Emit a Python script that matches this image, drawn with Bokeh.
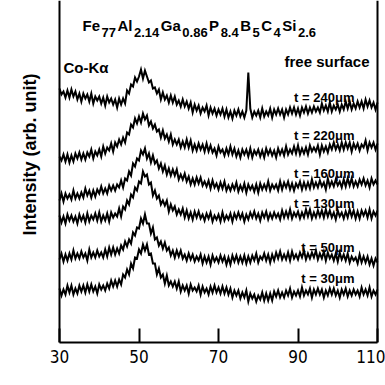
import math
from bokeh.plotting import figure
from bokeh.models import Range1d, FixedTicker, Label, Span
from bokeh.embed import file_html
from bokeh.resources import INLINE

# ---------------- data ----------------
two_theta = [30 + 0.5 * i for i in range(161)]  # sampling grid, degrees

t240 = [254,248,251,245,252,245,253,246,251,243,
        249,241,249,244,248,241,249,239,246,242,
        246,239,245,237,246,240,244,238,243,235,
        244,238,244,239,252,249,258,256,265,261,
        266,273,264,272,266,260,262,254,255,249,
        253,243,250,243,247,240,247,240,246,238,
        242,236,243,236,241,234,240,230,238,232,
        237,229,235,231,237,227,235,229,234,227,
        233,228,234,226,233,225,231,224,232,227,
        233,226,231,225,232,270,234,225,231,227,
        232,225,234,226,231,227,234,225,233,228,
        234,228,233,225,233,228,235,229,235,228,
        234,227,235,230,236,229,235,230,236,231,
        235,230,239,232,237,231,240,231,237,233,
        238,231,238,233,241,234,241,233,239,234,
        241,235,241,234,243,236,242,235,240,233,
        240]

t220 = [186,182,188,181,188,180,187,181,189,184,
        190,183,189,183,190,186,193,184,191,187,
        193,186,196,189,195,192,199,191,200,196,
        203,198,205,200,210,208,218,215,224,219,
        226,220,229,223,227,217,221,214,218,211,
        213,205,212,204,208,201,208,198,203,198,
        203,195,201,195,203,195,202,192,198,192,
        199,193,198,191,199,191,197,190,194,187,
        196,190,193,187,194,188,196,188,194,186,
        192,185,193,188,193,186,194,185,192,188,
        193,186,192,185,194,188,193,187,192,185,
        194,188,193,187,196,188,193,189,196,189,
        197,188,194,189,195,188,197,191,195,191,
        197,188,197,191,196,190,198,193,200,193,
        198,192,200,193,200,194,200,191,199,194,
        199,192,198,195,202,192,200,195,200,193,
        199]

t160 = [142,149,141,149,144,148,143,152,144,149,
        144,150,145,154,147,152,145,152,146,153,
        149,156,149,154,149,157,152,157,152,158,
        155,162,155,164,162,171,167,179,176,184,
        182,192,188,194,184,189,180,187,179,182,
        174,179,171,177,168,174,167,173,167,173,
        163,168,163,169,161,166,158,164,158,165,
        159,165,157,161,156,162,154,162,155,159,
        153,160,154,161,152,157,152,158,153,160,
        151,157,152,159,150,158,153,157,151,158,
        150,159,153,158,153,161,152,158,154,158,
        152,161,153,160,155,161,153,159,152,159,
        155,161,153,160,154,160,154,163,155,160,
        155,162,156,160,153,164,156,161,156,163,
        157,161,155,163,156,164,157,164,156,161,
        156,163,158,164,157,162,155,164,158,162,
        158]

t130 = [127,120,126,119,128,122,127,121,126,119,
        128,122,127,120,129,121,127,123,129,122,
        130,121,127,122,129,121,130,125,129,126,
        134,126,136,133,142,138,148,145,155,152,
        161,159,171,166,168,158,160,147,152,144,
        147,138,142,137,142,131,138,132,136,128,
        133,128,134,125,132,124,130,123,131,125,
        131,124,128,122,129,124,130,121,127,123,
        128,121,130,122,127,123,129,121,129,124,
        130,124,129,121,128,123,130,125,131,124,
        129,122,130,125,131,123,129,124,130,125,
        129,123,132,125,131,125,133,124,130,126,
        131,124,130,125,133,126,133,124,130,125,
        132,126,132,125,133,126,132,125,130,123,
        132,126,130,124,131,125,133,126,132,124,
        131,124,132,127,132,125,133,124,131,127,
        132]

t50 = [83,89,81,88,82,89,83,92,84,89,
       84,91,85,89,82,93,85,90,85,92,
       86,90,85,93,86,95,88,95,88,94,
       89,97,93,101,96,103,99,110,107,115,
       114,124,119,128,119,119,109,115,103,105,
       97,101,94,100,92,95,87,92,85,92,
       86,92,84,88,82,89,83,88,81,86,
       82,88,79,86,80,86,78,87,81,85,
       80,87,81,86,78,85,78,87,81,87,
       80,86,80,87,79,86,80,87,82,89,
       80,86,83,89,82,88,80,88,82,90,
       84,91,83,88,83,90,82,91,84,88,
       83,90,85,92,83,89,84,90,85,92,
       83,89,84,91,82,90,84,88,82,89,
       81,90,83,88,82,89,80,86,82,85,
       79,88,80,86,80,86,78,84,77,84,
       80]

t30 = [54,47,53,48,57,50,57,48,54,49,
       57,51,57,50,58,51,58,51,56,49,
       58,53,57,52,59,54,62,56,62,56,
       63,58,68,65,73,68,79,74,85,84,
       93,89,98,92,98,88,89,79,79,68,
       74,65,68,59,67,57,61,56,61,54,
       61,51,57,52,57,49,58,52,55,51,
       57,48,56,50,54,48,56,50,57,50,
       55,49,56,49,55,48,54,45,52,47,
       52,44,50,45,52,41,49,44,48,41,
       47,43,50,42,49,42,49,42,51,46,
       52,45,50,45,52,47,54,45,51,47,
       52,46,55,47,52,48,54,45,53,48,
       54,48,53,45,52,47,54,48,54,47,
       52,45,53,48,54,46,52,47,53,48,
       52,46,55,48,53,47,55,46,52,48,
       53]

series = [t240, t220, t160, t130, t50, t30]
series_labels = ["t = 240μm", "t = 220μm", "t = 160μm", "t = 130μm", "t = 50μm", "t = 30μm"]
label_y = [245, 207, 169, 139, 95, 64]

x_ticks = [30, 50, 70, 90, 110]
x_min, x_max = 30, 110

title_parts = ["Fe", "77", "Al", "2.14", "Ga", "0.86", "P", "8.4", "B", "5", "C", "4", "Si", "2.6"]
title_is_sub = [False, True, False, True, False, True, False, True, False, True, False, True, False, True]

y_title = "Intensity (arb. unit)"
radiation = "Co-Kα"
surface = "free surface"

# ---------------- layout ----------------
FONT = "'Liberation Sans', Arial, Helvetica, sans-serif"
NARROW = "'Liberation Sans Narrow', 'Arial Narrow', 'DejaVu Sans Condensed', sans-serif"

W_PX, H_PX = 385, 385
AX_LEFT_PX, AX_RIGHT_PX = 59, 377          # where 30 and 110 fall
px_per_unit = (AX_RIGHT_PX - AX_LEFT_PX) / (x_max - x_min)
view_lo = x_min - AX_LEFT_PX / px_per_unit
view_hi = x_max + (W_PX - AX_RIGHT_PX) / px_per_unit
BOTTOM = 43

p = figure(width=W_PX, height=H_PX,
           x_range=Range1d(view_lo, view_hi), y_range=Range1d(0, H_PX - BOTTOM),
           output_backend="svg", toolbar_location=None, y_axis_location=None,
           min_border_left=0, min_border_right=0,
           min_border_top=0, min_border_bottom=BOTTOM)
p.title.visible = False
p.background_fill_color = "white"
p.border_fill_color = "white"
p.outline_line_color = None
p.grid.visible = False

xa = p.xaxis[0]
xa.bounds = (x_min, x_max)
xa.ticker = FixedTicker(ticks=x_ticks)
xa.major_tick_in = 14
xa.major_tick_out = 0
xa.minor_tick_line_color = None
xa.axis_line_width = 2
xa.major_tick_line_width = 2
xa.axis_line_color = "black"
xa.major_tick_line_color = "black"
xa.major_label_text_font = NARROW
xa.major_label_text_font_size = "17px"
xa.major_label_text_color = "black"
xa.major_label_standoff = 7

for loc in (x_min, x_max):
    p.add_layout(Span(location=loc, dimension="height", line_color="black", line_width=2))

for s in series:
    p.line(two_theta, s, line_color="black", line_width=2.0, line_join="miter")

for txt, yy in zip(series_labels, label_y):
    p.add_layout(Label(x=104.2, y=yy, text=txt, text_align="right", text_baseline="alphabetic",
                       text_font=FONT, text_font_style="bold", text_font_size="13px", text_color="black"))

p.add_layout(Label(x=31.0, y=275, text=radiation, text_align="left", text_baseline="alphabetic",
                   text_font=FONT, text_font_style="bold", text_font_size="15px", text_color="black"))
p.add_layout(Label(x=108.0, y=281, text=surface, text_align="right", text_baseline="alphabetic",
                   text_font=FONT, text_font_style="bold", text_font_size="15px", text_color="black"))

# title with subscripts
W = {"F": 611, "e": 556, "A": 722, "l": 278, "G": 778, "a": 556, "P": 667, "B": 722,
     "C": 722, "S": 667, "i": 278, ".": 278}
MAIN, SUB, GAP = 15, 13, 1.5
off = 0.0
for part, sub in zip(title_parts, title_is_sub):
    size = SUB if sub else MAIN
    p.add_layout(Label(x=35.8, y=310 if sub else 317, x_offset=off, text=part,
                       text_align="left", text_baseline="alphabetic",
                       text_font=FONT, text_font_style="bold", text_font_size=f"{size}px",
                       text_color="black"))
    off += sum(W.get(ch, 556) for ch in part) / 1000 * size + GAP

p.add_layout(Label(x=22.7, y=188, text=y_title, angle=math.pi / 2, text_align="center",
                   text_baseline="alphabetic", text_font=FONT, text_font_style="bold",
                   text_font_size="18px", text_color="black"))

open("out.html", "w").write(file_html(p, INLINE))
